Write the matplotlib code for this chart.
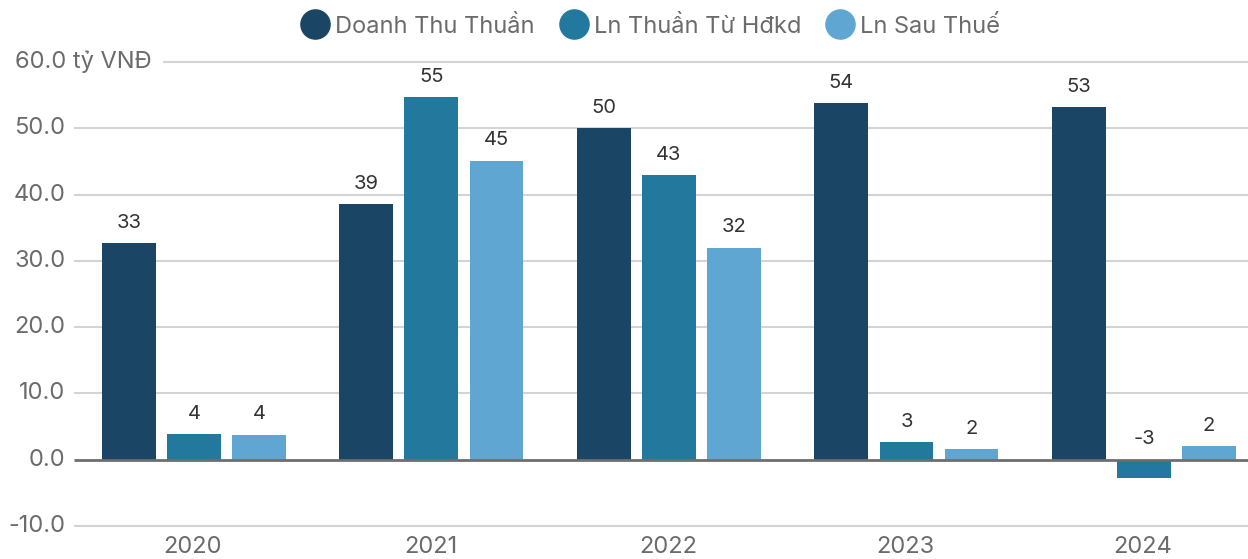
import numpy as np
from matplotlib import pyplot as plt
from matplotlib.lines import Line2D

years = ["2020", "2021", "2022", "2023", "2024"]
doanh_thu = [32.7, 38.6, 50.0, 53.8, 53.2]
ln_hdkd = [3.9, 54.7, 42.9, 2.6, -2.8]
ln_sau_thue = [3.8, 45.1, 32.0, 1.6, 2.0]
series_names = ["Doanh Thu Thuần", "Ln Thuần Từ Hđkd", "Ln Sau Thuế"]
colors = ["#1b4564", "#23789e", "#5fa6d2"]
y_ticks = [-10, 0, 10, 20, 30, 40, 50, 60]

plt.rcParams['font.family'] = ['Inter', 'DejaVu Sans']

fig = plt.figure(figsize=(12.48, 5.59), dpi=100)
ax = fig.add_axes([0, 0, 1, 1])
ax.set_xlim(-0.8126, 4.442)
ax.set_ylim(-14.98, 69.35)
ax.axis("off")

x = np.arange(len(years))
width = 0.227
step = 0.274
for i, (vals, c) in enumerate(zip([doanh_thu, ln_hdkd, ln_sau_thue], colors)):
    pos = x + (i - 1) * step + 0.004
    ax.bar(pos, vals, width, color=c, zorder=3)
    for p, v in zip(pos, vals):
        ax.text(p, max(v, 0) + 1.7, f"{round(v):.0f}", ha="center", va="bottom",
                fontsize=14.5, color="#333333", zorder=4)

# gridlines + y labels
for t in y_ticks:
    lbl = f"{t:.1f}"
    if t == 60:
        lbl += " tỷ VNĐ"
    tx = ax.text(-0.537, t, lbl, ha="right", va="center", fontsize=17, color="#6b6b6b")
    if t == 60:
        tx.set_ha("left")
        tx.set_x(-0.75)
        start = -0.125
    else:
        start = -0.50
    if t == 0:
        ax.hlines(t, start, 4.442, color="#6e6e6e", lw=2, zorder=5)
    else:
        ax.hlines(t, start, 4.442, color="#d4d4d4", lw=1.5, zorder=1)

for xi, yr in zip(x, years):
    ax.text(xi, -13.2, yr, ha="center", va="center", fontsize=17, color="#6b6b6b")

handles = [Line2D([], [], marker="o", ls="", markersize=21, color=c) for c in colors]
fig.legend(handles, series_names, loc="upper center", bbox_to_anchor=(0.521, 1.01),
           ncol=3, frameon=False, fontsize=17, labelcolor="#6b6b6b",
           handlelength=1.3, handletextpad=0.2, columnspacing=1.0)

plt.savefig("out.png", dpi=100)
